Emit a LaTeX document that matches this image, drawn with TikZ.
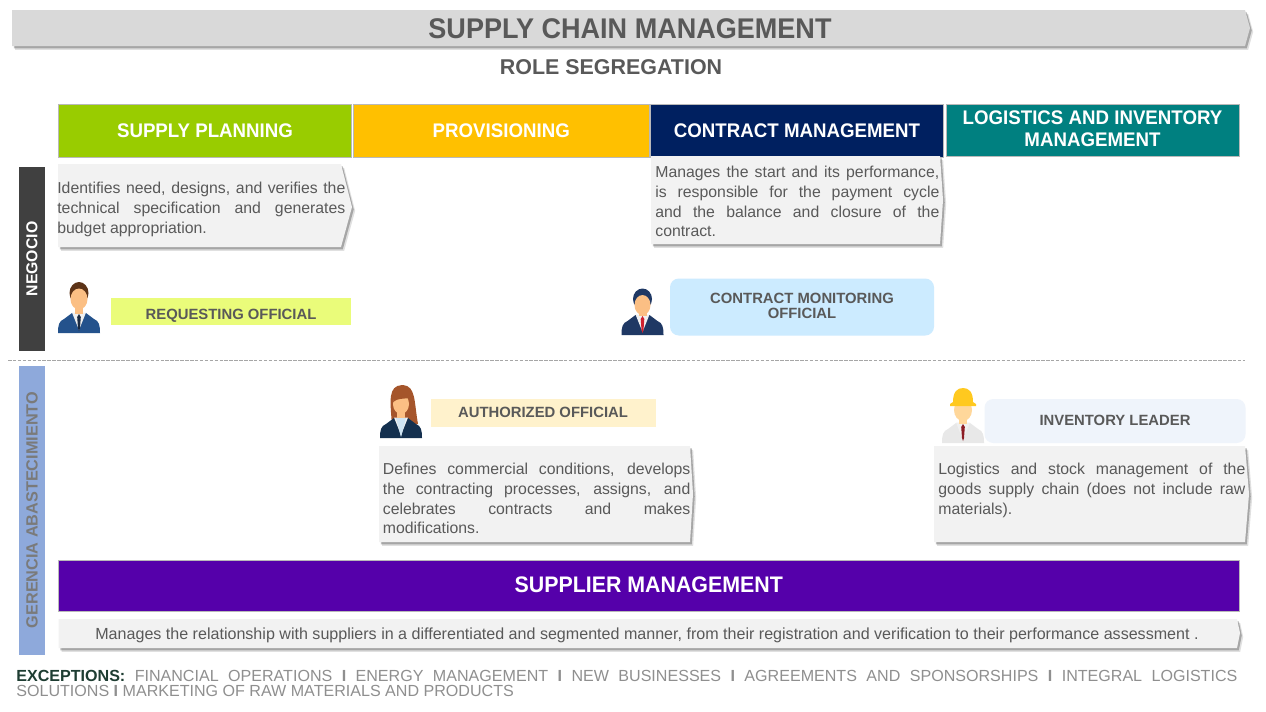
\documentclass[tikz,border=0pt]{standalone}
\usepackage{fontspec}
\setmainfont{Liberation Sans}
\newfontfamily\narrowbold[FakeStretch=0.95]{Liberation Sans Bold}
\usetikzlibrary{shadows}

\definecolor{bannergray}{HTML}{D9D9D9}
\definecolor{panelgray}{HTML}{F2F2F2}
\definecolor{inkgray}{HTML}{595959}
\definecolor{plangreen}{HTML}{99CC00}
\definecolor{provamber}{HTML}{FFC000}
\definecolor{contractnavy}{HTML}{002060}
\definecolor{logteal}{HTML}{008080}
\definecolor{supplierpurple}{HTML}{5500AA}
\definecolor{negociodark}{HTML}{404040}
\definecolor{gerenciablue}{HTML}{8EA9DB}
\definecolor{requestlime}{HTML}{EAFC7A}
\definecolor{monitorsky}{HTML}{CCEBFF}
\definecolor{authcream}{HTML}{FFF2CC}
\definecolor{leaderice}{HTML}{EFF4FB}
\definecolor{exceptgreen}{HTML}{1E3D32}
\definecolor{exceptgray}{HTML}{8F8F8F}
\definecolor{suitblue}{HTML}{24528C}
\definecolor{suitnavy}{HTML}{1F3864}
\definecolor{suitdark}{HTML}{14304F}
\definecolor{shirtlight}{HTML}{F0F0F0}
\definecolor{shirtgray}{HTML}{E8E8E8}
\definecolor{tiedark}{HTML}{1B2A41}
\definecolor{tiered}{HTML}{D0202E}
\definecolor{tiewine}{HTML}{8C1C24}
\definecolor{tiesky}{HTML}{CFE4F3}
\definecolor{hairbrown}{HTML}{5C3317}
\definecolor{hairauburn}{HTML}{A5552B}
\definecolor{skintone}{HTML}{FBBF84}
\definecolor{skinpale}{HTML}{FFD79A}
\definecolor{hatyellow}{HTML}{FFC91F}

\def\px{0.02cm}

\tikzset{
	softshadow/.style={
		drop shadow={shadow xshift=1.8pt, shadow yshift=-2.2pt, opacity=.12, fill=black},
		drop shadow={shadow xshift=1pt, shadow yshift=-1.4pt, opacity=.26, fill=black}},
	panelshape/.style={fill=panelgray, softshadow},
	headbox/.style={draw=gray!55, line width=0.5pt, inner sep=0pt, align=center, text=white,
		font=\fontsize{11.2}{12.6}\selectfont\narrowbold},
	rolebox/.style={inner sep=0pt, align=center, text=inkgray,
		font=\fontsize{8.45}{8.5}\selectfont\bfseries},
	paneltext/.style={inner sep=0pt, anchor=north west, align=justify, text=inkgray,
		font=\fontsize{9}{11.2}\selectfont},
	sidebar/.style={inner sep=0pt, rotate=90, font=\fontsize{9}{10}\selectfont\bfseries},
	pics/bust/.style n args={3}{code={
		\fill[#1] (-21,0) .. controls (-21,-8) and (-20,-12) .. (-15,-14) -- (-7,-20) -- (7,-20) -- (15,-14) .. controls (20,-12) and (21,-8) .. (21,0) -- cycle;
		\fill[shirtlight] (-7,-20.5) -- (7,-20.5) -- (0,-3) -- cycle;
		\fill[#2] (0,-19) -- (1.8,-16) -- (1,-5) -- (0,-2) -- (-1,-5) -- (-1.8,-16) -- cycle;
		\fill[#3] (-4,-27) rectangle (4,-19);
	}}
}

\begin{document}
\begin{tikzpicture}[x=\px, y=-\px]
	\useasboundingbox (0,0) rectangle (1266,711);
	\fill[white] (0,0) rectangle (1266,711);

	% banner
	\fill[bannergray, softshadow] (12,10) -- (1245,10) -- (1250,28) -- (1245,46) -- (12,46) -- cycle;
	\node[inner sep=0pt, text=inkgray, font=\fontsize{16.2}{18}\selectfont\narrowbold] (title) at (630,29) {SUPPLY CHAIN MANAGEMENT};
	\node[inner sep=0pt, text=inkgray, font=\fontsize{12.2}{14}\selectfont\bfseries] (subtitle) at (611,67) {ROLE SEGREGATION};

	% column heads
	\node[headbox, fill=plangreen, minimum width=293.5*\px, minimum height=53*\px] (planning) at (205,131) {SUPPLY PLANNING};
	\node[headbox, fill=provamber, minimum width=295.5*\px, minimum height=53*\px] (provisioning) at (501.25,131) {PROVISIONING};
	\node[headbox, fill=contractnavy, minimum width=293*\px, minimum height=53*\px] (contract) at (797,131) {CONTRACT MANAGEMENT};
	\node[headbox, fill=logteal, minimum width=293*\px, minimum height=52*\px, text depth=2.3pt, font=\fontsize{11.2}{12.3}\selectfont\narrowbold] (logistics) at (1092.5,130.5) {LOGISTICS AND INVENTORY\\MANAGEMENT};

	% side bars
	\fill[negociodark] (19,167) rectangle (44.5,351);
	\node[sidebar, text=white] (negocio) at (32,259) {NEGOCIO};
	\fill[gerenciablue] (19,366) rectangle (44.5,655);
	\node[sidebar, text=inkgray!80, font=\fontsize{9.25}{10}\selectfont\bfseries] (gerencia) at (32,510) {GERENCIA ABASTECIMIENTO};
	\draw[gray!70, line width=0.5pt, dash pattern=on 2pt off 0.8pt] (8,360) -- (1245,360);

	% text panels
	\fill[panelshape] (58,164) -- (341,164) -- (352,207) -- (341,247) -- (58,247) -- cycle;
	\node[paneltext, text width=288*\px] (needtext) at (57,182) {Identifies need, designs, and verifies the\linebreak technical specification and generates\linebreak budget appropriation.};

	\fill[panelshape] (651,156) -- (940,156) -- (943,200) -- (940,244) -- (651,244) -- cycle;
	\node[paneltext, text width=284*\px] (startext) at (655,166) {Manages the start and its performance,\linebreak is responsible for the payment cycle\linebreak and the balance and closure of the\linebreak contract.};

	\fill[panelshape] (379,446) -- (690,446) -- (693,494) -- (690,542) -- (379,542) -- cycle;
	\node[paneltext, text width=307.5*\px] (termstext) at (382.5,463) {Defines commercial conditions, develops\linebreak the contracting processes, assigns, and\linebreak celebrates contracts and makes\linebreak modifications.};

	\fill[panelshape] (934,446) -- (1245,446) -- (1249,494) -- (1245,542) -- (934,542) -- cycle;
	\node[paneltext, text width=307*\px] (stocktext) at (938,463) {Logistics and stock management of the\linebreak goods supply chain (does not include raw\linebreak materials).};

	% role labels
	\node[rolebox, fill=requestlime, minimum width=240*\px, minimum height=27.5*\px, text height=9.5pt, text depth=0pt] (requesting) at (231,311.5) {REQUESTING OFFICIAL};
	\node[rolebox, fill=monitorsky, rounded corners=5pt, minimum width=264*\px, minimum height=57*\px, text depth=1.1pt] (monitoring) at (802,307) {CONTRACT MONITORING\\OFFICIAL};
	\node[rolebox, fill=authcream, minimum width=225*\px, minimum height=28*\px, text height=6pt, text depth=1.2pt] (authorized) at (543,413) {AUTHORIZED OFFICIAL};
	\node[rolebox, fill=leaderice, rounded corners=5pt, minimum width=261*\px, minimum height=44*\px, text height=6pt, text depth=1.2pt] (leader) at (1115,421) {INVENTORY LEADER};

	% requesting official
	\pic at (79,333) {bust={suitblue}{tiedark}{skintone}};
	\fill[hairbrown] (79,293) ellipse [x radius=9.5, y radius=11];
	\fill[skintone] (79,299) ellipse [x radius=8.5, y radius=10.5];

	% contract monitoring official
	\pic at (642.5,335) {bust={suitnavy}{tiered}{skintone}};
	\fill[suitnavy] (642.5,299) ellipse [x radius=9.5, y radius=10.5];
	\fill[skintone] (642.5,305) ellipse [x radius=8, y radius=10];

	% authorized official
	\fill[hairauburn] (392,425) .. controls (390,400) and (388,386) .. (402,385) -- (403,385) .. controls (416,386) and (414,402) .. (418,424) -- cycle;
	\pic at (401,438) {bust={suitdark}{tiesky}{skintone}};
	\fill[tiesky] (396,418) -- (406,418) -- (401,437) -- cycle;
	\fill[skintone] (401,404) ellipse [x radius=8, y radius=10];
	\fill[hairauburn] (393,402) .. controls (394,392) and (402,389) .. (409,398) .. controls (403,399) and (398,398) .. (393,402) -- cycle;

	% inventory leader
	\pic at (963,443) {bust={shirtgray}{tiewine}{skinpale}};
	\fill[skinpale] (963,410) ellipse [x radius=9, y radius=11];
	\fill[hatyellow] (950,404) -- (953,402) .. controls (953,392) and (957,388) .. (963,388) .. controls (969,388) and (973,392) .. (973,402) -- (976,404) -- (976,406) -- (950,406) -- cycle;

	% supplier band
	\node[headbox, fill=supplierpurple, minimum width=1180.5*\px, minimum height=51*\px, text depth=1.1pt, font=\fontsize{12.8}{14}\selectfont\narrowbold] (supplier) at (648.75,586) {SUPPLIER MANAGEMENT};
	\fill[panelshape] (58.5,619) -- (1237,619) -- (1240,633) -- (1237,648) -- (58.5,648) -- cycle;
	\node[inner sep=0pt, text=inkgray, font=\fontsize{9.15}{10}\selectfont] (suppliertext) at (647,635) {Manages the relationship with suppliers in a differentiated and segmented manner, from their registration and verification to their performance assessment .};

	% exceptions
	\node[inner sep=0pt, anchor=north west, align=justify, text width=1221*\px, text=exceptgray, font=\fontsize{9.15}{8.5}\selectfont] (exceptions) at (16,670) {{\bfseries\color{exceptgreen}EXCEPTIONS:} FINANCIAL OPERATIONS {\bfseries I} ENERGY MANAGEMENT {\bfseries I} NEW BUSINESSES {\bfseries I} AGREEMENTS AND SPONSORSHIPS {\bfseries I} INTEGRAL LOGISTICS\linebreak SOLUTIONS {\bfseries I} MARKETING OF RAW MATERIALS AND PRODUCTS};
\end{tikzpicture}
\end{document}
